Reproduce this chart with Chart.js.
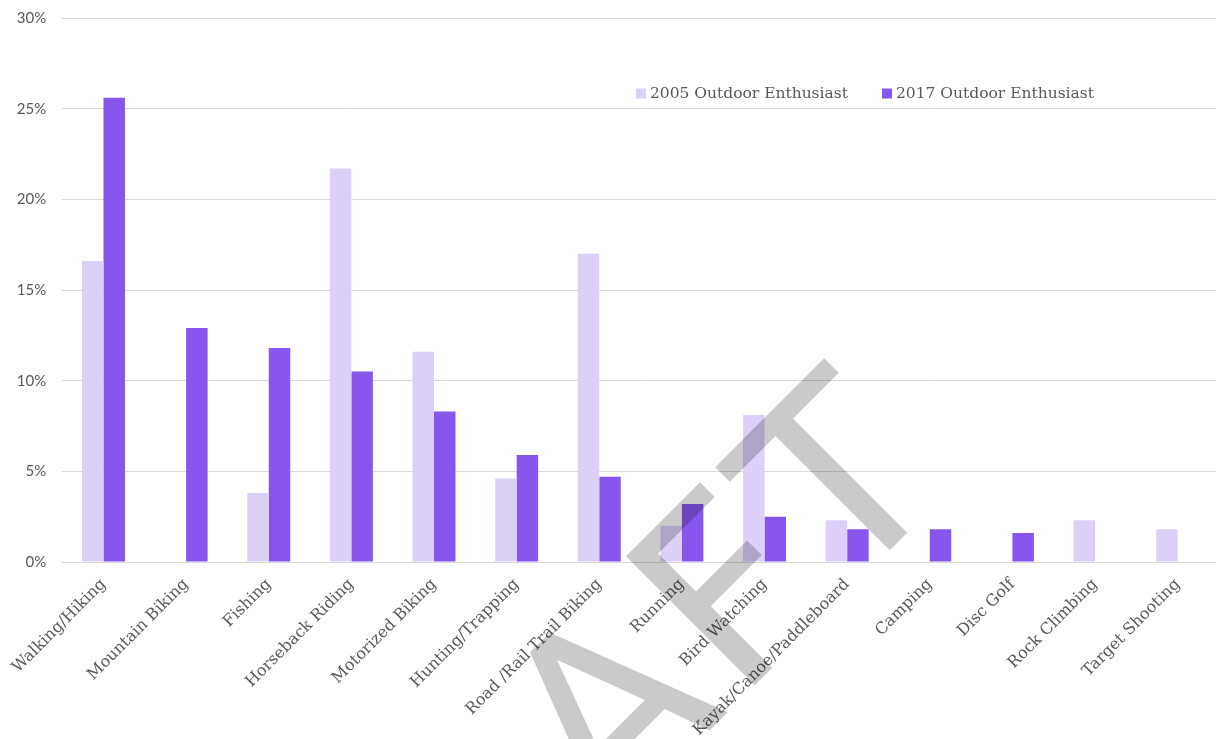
<!DOCTYPE html>
<html>
<head>
<meta charset="utf-8">
<script src="https://cdn.jsdelivr.net/npm/chart.js@4/dist/chart.umd.min.js"></script>
<style>
  html, body { margin: 0; padding: 0; background: #ffffff; overflow: hidden; }
  #wrap { width: 1216px; height: 739px; overflow: hidden; }
</style>
</head>
<body>
<div id="wrap"><canvas id="c" width="1219" height="739"></canvas></div>
<script>
const categories = ['Walking/Hiking', 'Mountain Biking', 'Fishing', 'Horseback Riding', 'Motorized Biking', 'Hunting/Trapping', 'Road /Rail Trail Biking', 'Running', 'Bird Watching', 'Kayak/Canoe/Paddleboard', 'Camping', 'Disc Golf', 'Rock Climbing', 'Target Shooting'];
const values2005 = [16.6, 0, 3.8, 21.7, 11.6, 4.6, 17.0, 2.0, 8.1, 2.3, 0, 0, 2.3, 1.8];
const values2017 = [25.6, 12.9, 11.8, 10.5, 8.3, 5.9, 4.7, 3.2, 2.5, 1.8, 1.8, 1.6, 0, 0];
const seriesNames = ['2005 Outdoor Enthusiast', '2017 Outdoor Enthusiast'];
const yTickLabels = ['0%', '5%', '10%', '15%', '20%', '25%', '30%'];
const watermarkText = 'DRAFT';

const COLOR_2005 = '#dcd0f8';
const COLOR_2017 = '#8757ed';
const TEXT = '#595959';
const SERIF = '"DejaVu Serif", serif';

const legendPlugin = {
  id: 'customLegend',
  afterDraw(chart) {
    const ctx = chart.ctx;
    ctx.save();
    ctx.font = '15.5px ' + SERIF;
    ctx.textBaseline = 'middle';
    ctx.textAlign = 'left';
    const ds = chart.data.datasets;
    const box = 10, gapBox = 4, gapItem = 34;
    const widths = ds.map(d => ctx.measureText(d.label).width);
    let total = 0;
    widths.forEach((w, i) => { total += box + gapBox + w + (i < widths.length - 1 ? gapItem : 0); });
    let x = 1094 - total;
    const y = 93.5;
    ds.forEach((d, i) => {
      ctx.fillStyle = d.backgroundColor;
      ctx.fillRect(x, y - box / 2, box, box);
      x += box + gapBox;
      ctx.fillStyle = TEXT;
      ctx.fillText(d.label, x, y);
      x += widths[i] + gapItem;
    });
    ctx.restore();
  }
};

const watermarkPlugin = {
  id: 'watermark',
  afterDraw(chart) {
    const ctx = chart.ctx;
    ctx.save();
    ctx.globalCompositeOperation = 'multiply';
    ctx.font = '250px "DejaVu Sans", sans-serif';
    ctx.letterSpacing = '12px';
    ctx.fillStyle = '#cacaca';
    ctx.textBaseline = 'alphabetic';
    ctx.textAlign = 'left';
    ctx.translate(680, 760);
    ctx.rotate(-Math.PI / 4);
    const before = ctx.measureText('DR').width + ctx.measureText('A').width / 2;
    ctx.fillText(watermarkText, -before, 0);
    ctx.restore();
  }
};

new Chart(document.getElementById('c'), {
  type: 'bar',
  data: {
    labels: categories,
    datasets: [
      { label: seriesNames[0], data: values2005, backgroundColor: COLOR_2005, borderWidth: 0 },
      { label: seriesNames[1], data: values2017, backgroundColor: COLOR_2017, borderWidth: 0 }
    ]
  },
  options: {
    responsive: false,
    animation: false,
    devicePixelRatio: 1,
    layout: { padding: { top: 18, right: 0, left: 0, bottom: 0 } },
    datasets: { bar: { categoryPercentage: 0.52, barPercentage: 1.0 } },
    plugins: {
      legend: { display: false },
      tooltip: { enabled: false },
      title: { display: false }
    },
    scales: {
      x: {
        grid: { display: false, drawTicks: false },
        border: { display: false },
        ticks: {
          color: TEXT,
          font: { family: SERIF, size: 16 },
          maxRotation: 45,
          minRotation: 45,
          autoSkip: false,
          padding: 13
        },
        afterFit(scale) { scale.height = 177; }
      },
      y: {
        min: 0,
        max: 30,
        grid: { color: '#d9d9d9', lineWidth: 1, drawTicks: true, tickLength: 8, tickColor: 'rgba(0,0,0,0)' },
        border: { display: false },
        ticks: {
          stepSize: 5,
          color: TEXT,
          padding: 8,
          font: { family: 'Lato, sans-serif', size: 15 },
          callback: (v, i) => yTickLabels[i]
        },
        afterFit(scale) { scale.width = 61; }
      }
    }
  },
  plugins: [legendPlugin, watermarkPlugin]
});
</script>
</body>
</html>
